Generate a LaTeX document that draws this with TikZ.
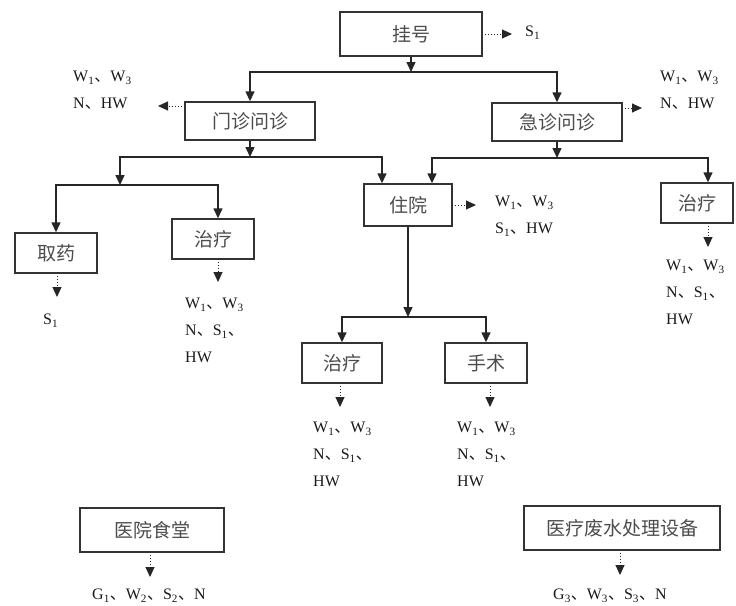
\documentclass[tikz,border=0pt]{standalone}
\usepackage{fontspec}
\setmainfont{Liberation Serif}
\newfontfamily\cjk{Noto Sans CJK SC}
\usetikzlibrary{arrows.meta}
\newcommand\dn{{\cjk 、}}
\newcommand\sbs[1]{\textsubscript{#1}}
\begin{document}
\begin{tikzpicture}[x=1pt, y=-1pt,
    box/.style={draw=black!80, line width=1.4pt, inner sep=0pt,
        font=\cjk\fontsize{19}{22}\selectfont, text=black!70},
    waste/.style={anchor=north west, inner sep=0pt, align=left,
        font=\fontsize{16}{27}\selectfont, text=black!90},
    flow/.style={line width=1.4pt, black!85, -{Triangle[length=10pt, width=9pt]}},
    emit/.style={line width=1pt, black!85, dotted, shorten <=2pt,
        -{Triangle[length=10pt, width=9pt]}}]
\useasboundingbox (0,0) rectangle (736,605);

% process boxes
\node[box, minimum width=142, minimum height=44] (reg) at (411,34) {挂号};
\node[box, minimum width=130, minimum height=38] (opd) at (250,121) {门诊问诊};
\node[box, minimum width=130, minimum height=38] (er) at (557,122) {急诊问诊};
\node[box, minimum width=88, minimum height=42] (inp) at (408,205) {住院};
\node[box, minimum width=82, minimum height=40] (fetch) at (56,253) {取药};
\node[box, minimum width=82, minimum height=40] (trL) at (213,239) {治疗};
\node[box, minimum width=72, minimum height=40] (trR) at (697,203) {治疗};
\node[box, minimum width=80, minimum height=40] (trM) at (342,363) {治疗};
\node[box, minimum width=82, minimum height=40] (surg) at (486,363) {手术};
\node[box, minimum width=144, minimum height=44] (cant) at (152,530) {医院食堂};
\node[box, minimum width=196, minimum height=44] (ww) at (622,528) {医疗废水处理设备};

% junctions
\coordinate (j1) at (411,72);
\coordinate (j2) at (250,157);
\coordinate (j3) at (120,185);
\coordinate (j4) at (557,158);
\coordinate (j5) at (408,317);

\draw[flow] (reg.south) -- (j1);
\draw[flow] (j1) -| (opd.north);
\draw[flow] (j1) -| (er.north);
\draw[flow] (opd.south) -- (j2);
\draw[flow] (j2) -| (j3);
\draw[flow] (j2) -| ([xshift=-26]inp.north);
\draw[flow] (er.south) -- (j4);
\draw[flow] (j4) -| ([xshift=24]inp.north);
\draw[flow] (j4) -| ([xshift=11]trR.north);
\draw[flow] (j3) -| (fetch.north);
\draw[flow] (j3) -| ([xshift=5]trL.north);
\draw[flow] (inp.south) -- (j5);
\draw[flow] (j5) -| (trM.north);
\draw[flow] (j5) -| (surg.north);

% emissions
\node[waste] (oReg) at (525,26) {S\sbs{1}};
\node[waste] (oOpd) at (73,71) {W\sbs{1}\dn W\sbs{3}\\N\dn HW};
\node[waste] (oEr) at (660,71) {W\sbs{1}\dn W\sbs{3}\\N\dn HW};
\node[waste] (oInp) at (495,196) {W\sbs{1}\dn W\sbs{3}\\S\sbs{1}\dn HW};
\node[waste] (oFetch) at (43,314) {S\sbs{1}};
\node[waste] (oTrL) at (185,298) {W\sbs{1}\dn W\sbs{3}\\N\dn S\sbs{1}\dn\\HW};
\node[waste] (oTrR) at (666,260) {W\sbs{1}\dn W\sbs{3}\\N\dn S\sbs{1}\dn\\HW};
\node[waste] (oTrM) at (313,422) {W\sbs{1}\dn W\sbs{3}\\N\dn S\sbs{1}\dn\\HW};
\node[waste] (oSurg) at (457,422) {W\sbs{1}\dn W\sbs{3}\\N\dn S\sbs{1}\dn\\HW};
\node[waste] (oCant) at (92,589) {G\sbs{1}\dn W\sbs{2}\dn S\sbs{2}\dn N};
\node[waste] (oWw) at (553,589) {G\sbs{3}\dn W\sbs{3}\dn S\sbs{3}\dn N};

\coordinate (tReg) at (512,34);
\coordinate (tOpd) at (158,106);
\coordinate (tEr) at (642,108);
\coordinate (tInp) at (476,205);
\coordinate (tFetch) at (57,297);
\coordinate (tTrL) at (218,282);
\coordinate (tTrR) at (708,247);
\coordinate (tTrM) at (340,407);
\coordinate (tSurg) at (490,407);
\coordinate (tCant) at (150,577);
\coordinate (tWw) at (620,575);

\draw[emit] (reg.east |- tReg) -- (tReg);
\draw[emit] (opd.west |- tOpd) -- (tOpd);
\draw[emit] (er.east |- tEr) -- (tEr);
\draw[emit] (inp.east |- tInp) -- (tInp);
\draw[emit] (fetch.south -| tFetch) -- (tFetch);
\draw[emit] (trL.south -| tTrL) -- (tTrL);
\draw[emit] (trR.south -| tTrR) -- (tTrR);
\draw[emit] (trM.south -| tTrM) -- (tTrM);
\draw[emit] (surg.south -| tSurg) -- (tSurg);
\draw[emit] (cant.south -| tCant) -- (tCant);
\draw[emit] (ww.south -| tWw) -- (tWw);
\end{tikzpicture}
\end{document}
